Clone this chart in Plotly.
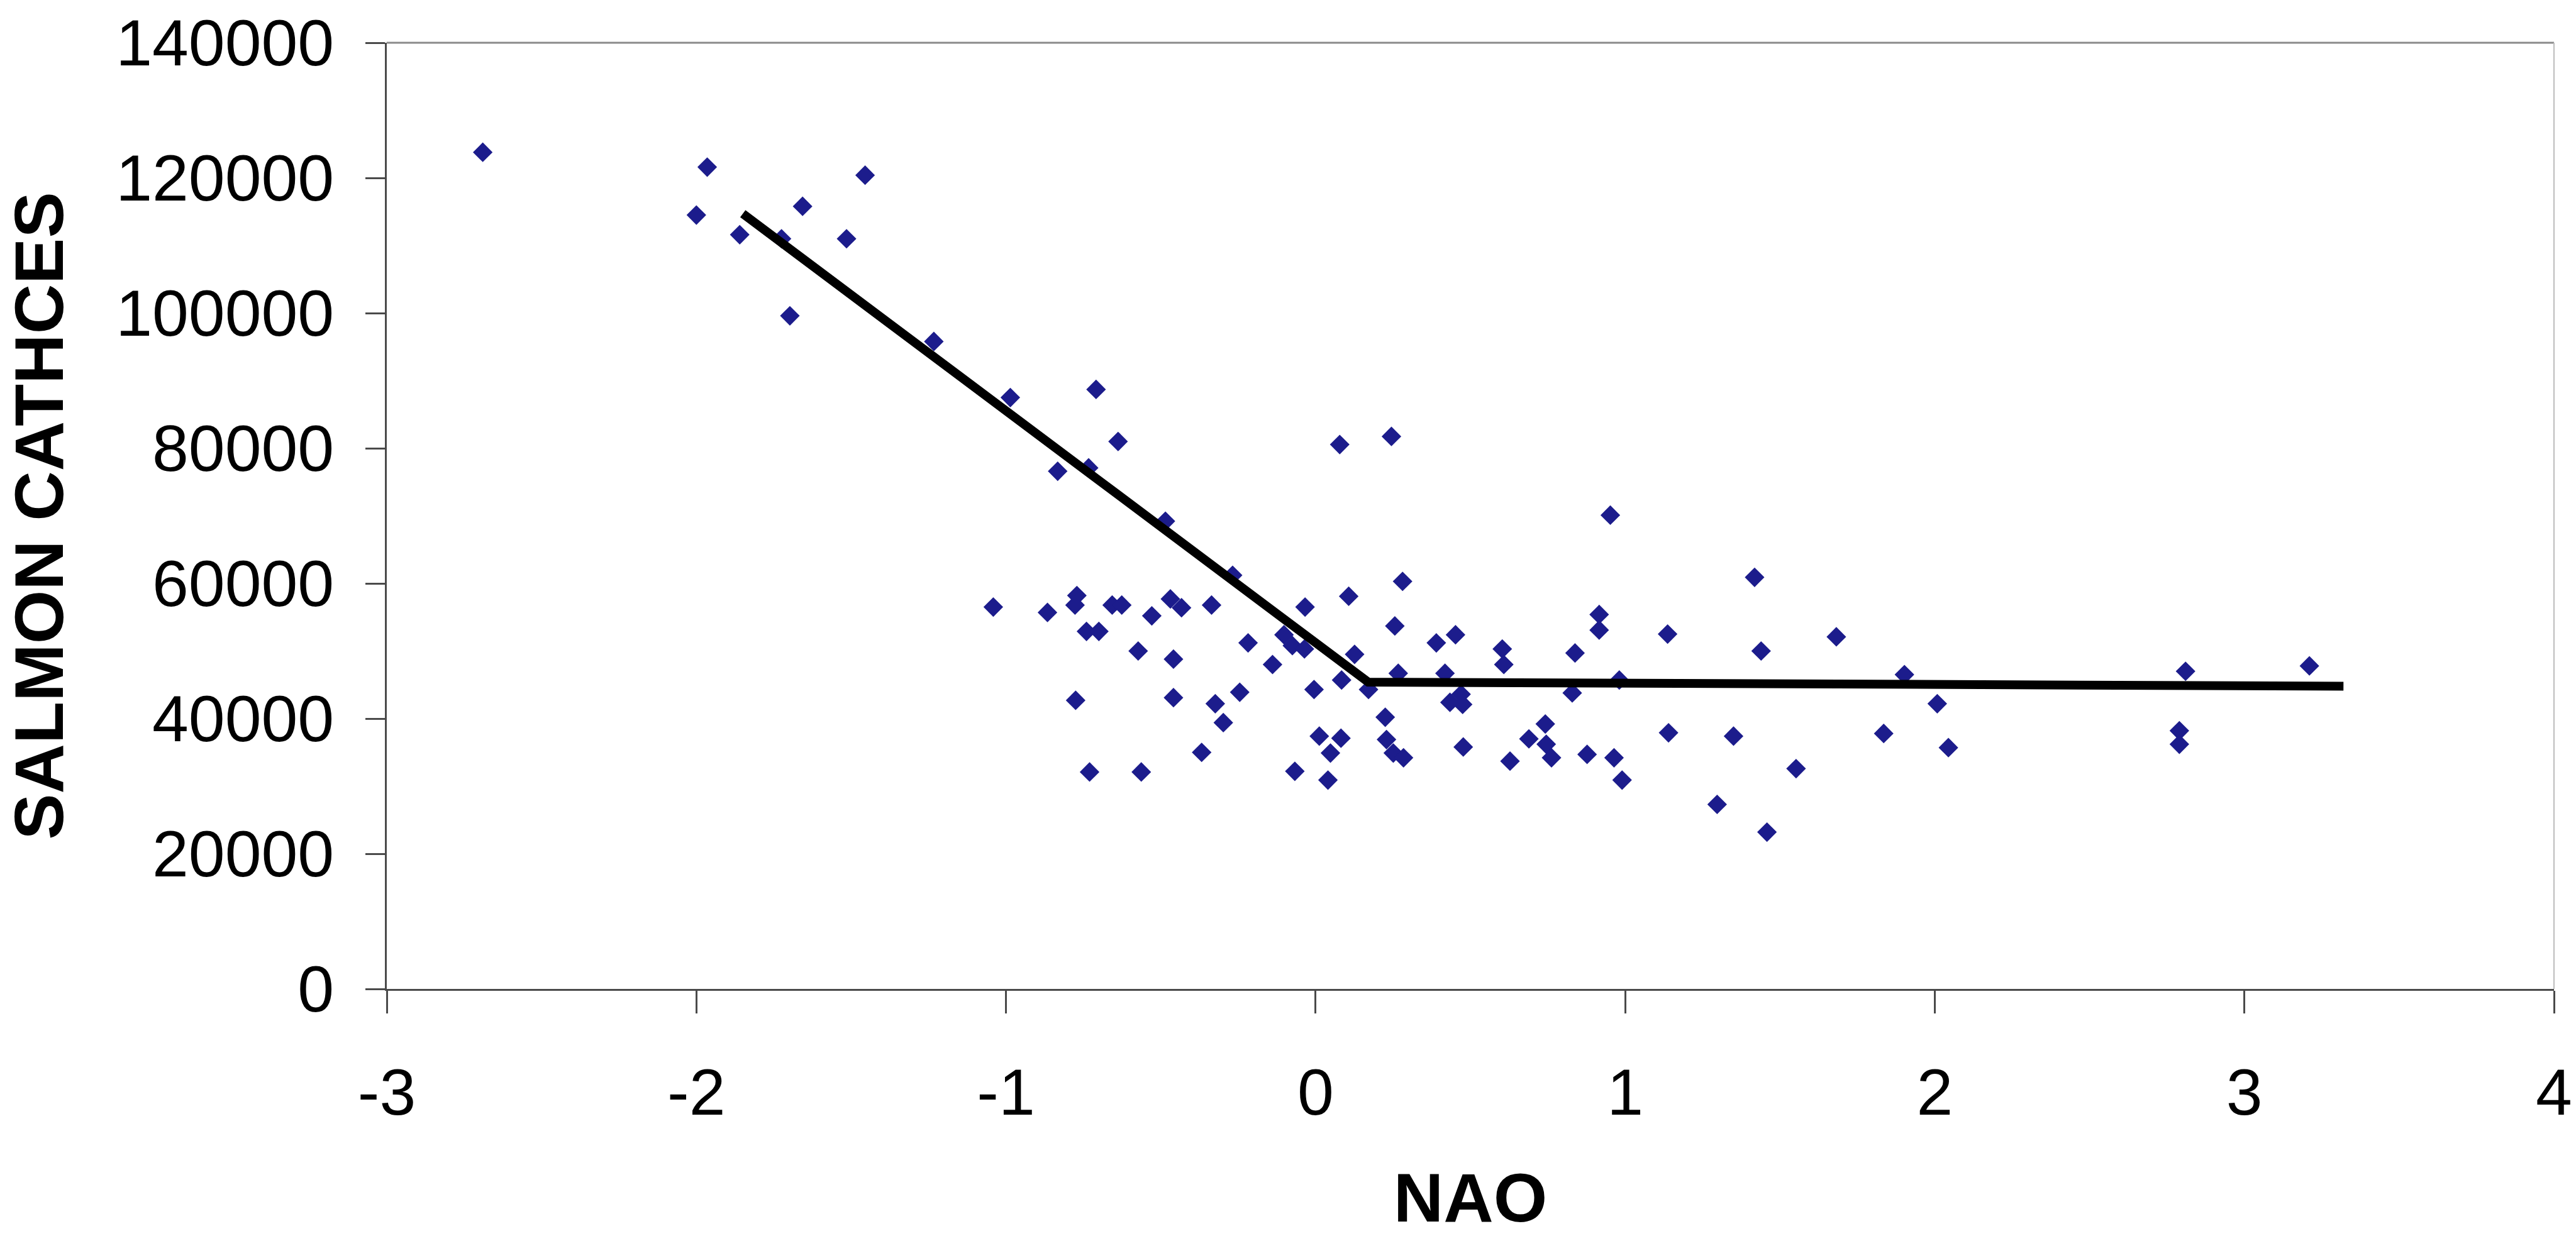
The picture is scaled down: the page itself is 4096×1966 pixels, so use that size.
import plotly.graph_objects as go

# ---- data ----
nao = [
    -2.69, -2.00, -1.965, -1.86, -1.725, -1.698, -1.657, -1.515, -1.455, -1.233,
    -0.986, -0.709, -0.638, -0.833, -0.733, -0.485, -0.268, 0.078, 0.245,
    -1.041, -0.866, -0.771, -0.777, -0.74, -0.70, -0.657, -0.626, -0.529, -0.469,
    -0.433, -0.336, -0.573, -0.459, -0.775, -0.459, -0.324, -0.298, -0.368,
    -0.730, -0.563, 0.281, 0.107, -0.034, 0.256, -0.218, -0.102, -0.075, -0.036,
    0.126, 0.390, 0.452, -0.139, -0.245, 0.084, -0.005, 0.171, 0.267, 0.418,
    0.434, 0.47, 0.475, 0.225, 0.012, 0.082, 0.048, 0.229, 0.251, 0.284, 0.477,
    -0.067, 0.040, 1.418, 0.916, 0.916, 1.137, 1.439, 0.603, 0.608, 0.838,
    0.981, 0.829, 0.742, 0.689, 0.745, 0.762, 0.628, 0.877, 0.964, 0.990,
    1.140, 1.350, 1.297, 0.952, 1.682, 1.902, 2.008, 1.552, 1.458, 1.835,
    2.044, 2.81, 3.21, 2.79, 2.79,
]
salmon_catches = [
    123800, 114500, 121600, 111600, 111000, 99600, 115800, 111000, 120400, 95800,
    87500, 88700, 81000, 76600, 77100, 69200, 61200, 80550, 81750,
    56500, 55700, 58200, 56800, 52900, 52900, 56800, 56800, 55200, 57700,
    56400, 56800, 50000, 48800, 42700, 43100, 42200, 39400, 35000,
    32100, 32100, 60300, 58100, 56500, 53700, 51200, 52400, 50800, 50300,
    49500, 51200, 52400, 48000, 43900, 45700, 44300, 44300, 46700, 46700,
    42400, 43600, 42100, 40200, 37400, 37100, 34900, 36900, 34900, 34200, 35800,
    32200, 30900, 60900, 55400, 53100, 52500, 50000, 50300, 48000, 49700,
    45700, 43800, 39200, 37000, 36200, 34200, 33700, 34700, 34200, 30900,
    37900, 37400, 27300, 70100, 52100, 46500, 42200, 32600, 23200, 37800,
    35700, 47000, 47800, 38200, 36200,
]

# piecewise fitted line
fit_nao = [-1.85, 0.17, 3.32]
fit_catches = [114700, 45400, 44800]

x_tickvals = [-3, -2, -1, 0, 1, 2, 3, 4]
x_ticktext = ["-3", "-2", "-1", "0", "1", "2", "3", "4"]
y_tickvals = [0, 20000, 40000, 60000, 80000, 100000, 120000, 140000]
y_ticktext = ["0", "20000", "40000", "60000", "80000", "100000", "120000", "140000"]

FONT = "Liberation Sans, Arial, sans-serif"
AXIS_COLOR = "#4a4a4a"

fig = go.Figure()
fig.add_trace(go.Scatter(
    x=nao, y=salmon_catches, mode="markers",
    marker=dict(symbol="diamond", size=24, color="#1c1c8c", line=dict(width=0)),
    showlegend=False,
))
fig.add_trace(go.Scatter(
    x=fit_nao, y=fit_catches, mode="lines",
    line=dict(color="black", width=14),
    showlegend=False,
))

fig.update_layout(
    width=4096, height=1966,
    margin=dict(l=615, r=35, t=68, b=393, autoexpand=False),
    paper_bgcolor="white", plot_bgcolor="white",
    showlegend=False,
    font=dict(family=FONT, color="black"),
    xaxis=dict(
        range=[-3, 4], tickvals=x_tickvals, ticktext=x_ticktext,
        ticks="outside", ticklen=36, tickwidth=3, tickcolor=AXIS_COLOR,
        showline=True, linecolor=AXIS_COLOR, linewidth=3,
        showgrid=False, zeroline=False,
        tickfont=dict(family=FONT, size=104, color="black"),
        ticklabelstandoff=36,
        title=dict(text="NAO", font=dict(family=FONT, size=110, color="black", weight="bold"),
                   standoff=82),
        automargin=False,
    ),
    yaxis=dict(
        range=[0, 140000], tickvals=y_tickvals, ticktext=y_ticktext,
        ticks="outside", ticklen=31, tickwidth=3, tickcolor=AXIS_COLOR,
        showline=True, linecolor=AXIS_COLOR, linewidth=3,
        showgrid=False, zeroline=False,
        tickfont=dict(family=FONT, size=104, color="black"),
        ticklabelstandoff=29,
        title=dict(text="SALMON CATHCES", font=dict(family=FONT, size=110, color="black", weight="bold"),
                   standoff=65),
        automargin=False,
    ),
    shapes=[
        dict(type="line", xref="paper", yref="paper", x0=0, x1=1, y0=1, y1=1,
             line=dict(color="#8a8a8a", width=3), layer="below"),
        dict(type="line", xref="paper", yref="paper", x0=1, x1=1, y0=0, y1=1,
             line=dict(color="#bdbdbd", width=2), layer="below"),
    ],
)

fig.write_html("out.html")
